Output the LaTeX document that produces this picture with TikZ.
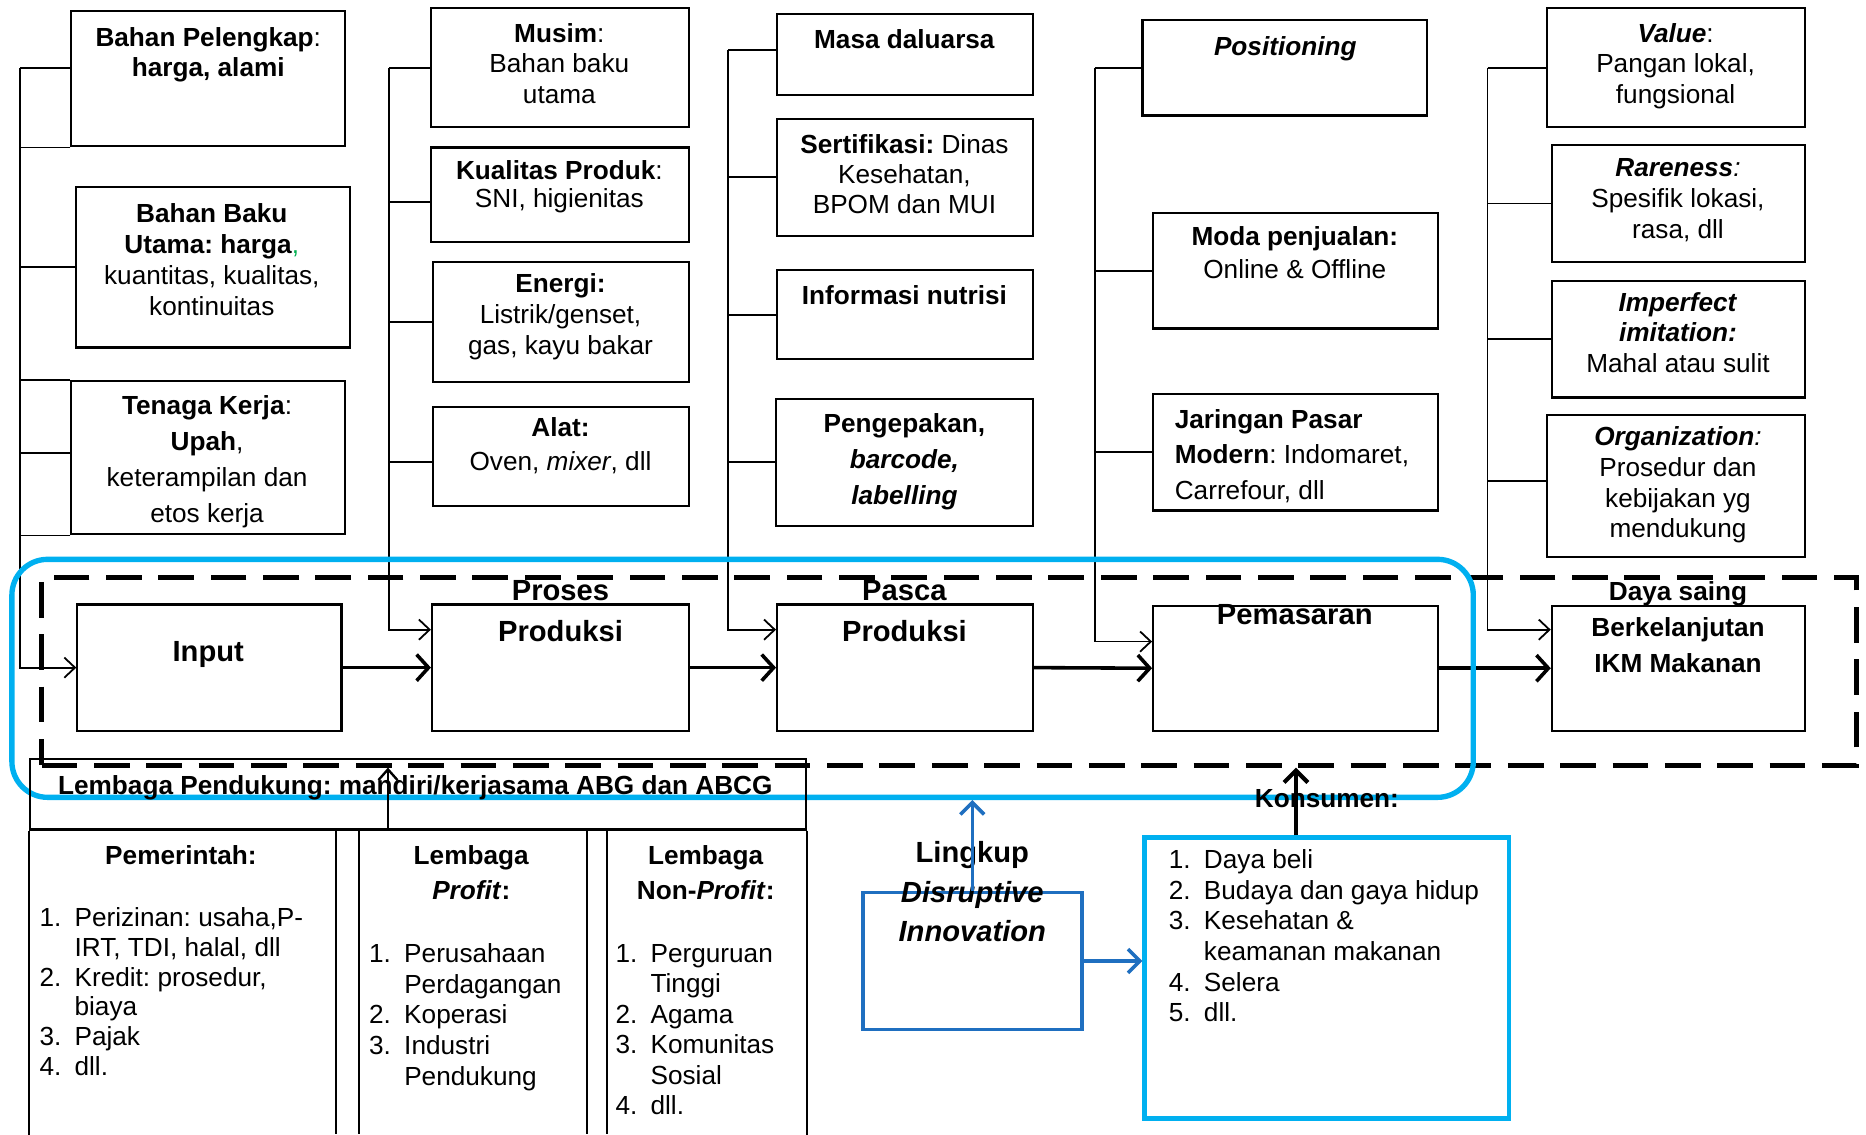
\documentclass[tikz,border=0pt]{standalone}
\usepackage{fontspec}
\setmainfont{Liberation Sans}
\usetikzlibrary{arrows.meta,fit,calc}
\definecolor{lb}{HTML}{00B0F0}
\definecolor{mb}{HTML}{1F6FC0}
\definecolor{gr}{HTML}{00B050}
\frenchspacing
\newcommand\fs{\fontsize{22}{25.5}\selectfont}
\newcommand\fsw[1]{\fontsize{22}{#1}\selectfont}
\newcommand\fsb[1]{\fontsize{24.5}{#1}\selectfont}
\newcommand\T{\rule{0pt}{16pt}}
\newcommand\TT{\rule{0pt}{17.6pt}}
\newcommand\li[2]{\makebox[29.5pt][l]{#1}#2}
\newcommand\lc[1]{\hspace*{29.5pt}#1}
% \bx[options]{name}{x1}{y1}{x2}{y2}: framed box between two corners
\newcommand\bx[6][]{\path (#3,#4) coordinate (#2-a) (#5,#6) coordinate (#2-b);
  \node[box,#1,fit=(#2-a)(#2-b)] (#2) {};}
\begin{document}
\begin{tikzpicture}[x=1pt,y=-1pt,
  box/.style={draw,line width=1.8pt,inner sep=0pt},
  txt/.style={inner sep=0pt,align=center,anchor=north,font=\fs},
  lst/.style={inner sep=0pt,align=left,anchor=north west,font=\fs},
  feed/.style={line width=1.5pt},
  feedarrow/.style={line width=1.5pt,-{Straight Barb[length=9pt,width=17pt]}},
  mainarrow/.style={line width=3pt,-{Straight Barb[length=10pt,width=22pt]}},
  uparrow/.style={line width=2pt,-{Straight Barb[length=9pt,width=16pt]}},
  karrow/.style={line width=3.5pt,-{Straight Barb[length=10pt,width=20pt]}},
  barrow/.style={draw=mb,line width=3pt,-{Straight Barb[length=10pt,width=20pt]}},
  tbl/.style={line width=1.8pt}]
\useasboundingbox (0,0) rectangle (1568,953);

% ---------- main process row ----------
\bx{inp}{65}{508}{287}{614}
\bx{pp}{363}{508}{579}{614}
\bx{ps}{653}{508}{868}{614}
\bx{pm}{969}{509}{1208}{614}
\bx{dy}{1304}{509}{1517}{614}

% ---------- input factors ----------
\bx{bp}{60}{9}{290}{123}
\bx{bb}{64}{157}{294}{292}
\bx{tk}{60}{320}{290}{449}
% ---------- production factors ----------
\bx{mu}{362}{7}{579}{107}
\bx{kp}{362}{124}{579}{203}
\bx{en}{364}{220}{579}{321}
\bx{al}{364}{342}{579}{425}
% ---------- post-production factors ----------
\bx{md}{653}{12}{868}{80}
\bx{se}{653}{100}{868}{198}
\bx{inf}{653}{227}{868}{302}
\bx{pk}{652}{335}{868}{442}
% ---------- marketing factors ----------
\bx{po}{960}{17}{1199}{97}
\bx{mo}{969}{179}{1208}{276}
\bx{jp}{969}{331}{1208}{429}
% ---------- competitiveness factors ----------
\bx{va}{1300}{7}{1517}{107}
\bx{ra}{1304}{122}{1517}{220}
\bx{im}{1304}{236}{1517}{334}
\bx{or}{1300}{349}{1517}{468}

% ---------- feeder trunks ----------
\coordinate (tA) at (17,57);
\draw[feed] (tA) -- (tA -| bp.west);
\draw[feed] (bb.west) -- (bb.west -| tA);
\draw[feed] ([yshift=4pt]tk.west) -- ([yshift=4pt]tk.west -| tA);
\draw[feed] (bp.south west) -- (bp.south west -| tA);
\draw[feed] (tk.north west) -- (tk.north west -| tA);
\draw[feed] (tk.south west) -- (tk.south west -| tA);
\draw[feedarrow] (tA) |- (inp.west);

\coordinate (tB) at (327,57);
\draw[feed] (tB) -- (tB -| mu.west);
\draw[feed] ([yshift=-6.5pt]kp.west) -- ([yshift=-6.5pt]kp.west -| tB);
\draw[feed] (en.west) -- (en.west -| tB);
\draw[feed] ([yshift=-4.5pt]al.west) -- ([yshift=-4.5pt]al.west -| tB);
\draw[feedarrow] (tB) |- ([yshift=-22pt]pp.north west);

\coordinate (tC) at (612,42);
\draw[feed] (tC) -- (tC -| md.west);
\draw[feed] (se.west) -- (se.west -| tC);
\draw[feed] (inf.west) -- (inf.west -| tC);
\draw[feed] (pk.west) -- (pk.west -| tC);
\draw[feedarrow] (tC) |- ([yshift=-22pt]ps.north west);

\coordinate (tD) at (920,57);
\draw[feed] (tD) -- (tD -| po.west);
\draw[feed] (mo.west) -- (mo.west -| tD);
\draw[feed] (jp.west) -- (jp.west -| tD);
\draw[feedarrow] (tD) |- ([yshift=-31pt]pm.north west);

\coordinate (tE) at (1250,57);
\draw[feed] (tE) -- (tE -| va.west);
\draw[feed] (ra.west) -- (ra.west -| tE);
\draw[feed] (im.west) -- (im.west -| tE);
\draw[feed] ([yshift=4.5pt]or.west) -- ([yshift=4.5pt]or.west -| tE);
\draw[feedarrow] (tE) |- ([yshift=-21pt]dy.north west);

% ---------- main flow ----------
\draw[mainarrow] (inp.east) -- (pp.west);
\draw[mainarrow] (pp.east) -- (ps.west);
\draw[mainarrow] (ps.east) -- (pm.west);
\draw[mainarrow] (pm.east) -- (dy.west);

% ---------- frames ----------
\path (35,485) coordinate (dsh-a) (1560,643) coordinate (dsh-b);
\node[draw,line width=4pt,dash pattern=on 30pt off 14pt,inner sep=0pt,fit=(dsh-a)(dsh-b)] (dsh) {};
\path (10,470) coordinate (blu-a) (1238,670) coordinate (blu-b);
\node[draw=lb,line width=4.5pt,rounded corners=30pt,inner sep=0pt,fit=(blu-a)(blu-b)] (blu) {};

% ---------- supporting institutions table ----------
\bx{lph}{25}{638}{677}{697}
\draw[tbl] (lph.south west) -- ++(0,256);
\draw[tbl] (lph.south east) -- ++(0,256);
\foreach \cx in {282,302,493,510} \draw[tbl] (\cx,697) -- (\cx,953);

% ---------- consumer and disruptive innovation ----------
\bx[draw=lb,line width=4pt]{ks}{962}{704}{1268}{940}
\bx[draw=mb,line width=3pt]{di}{725}{750}{909}{865}

% ---------- texts: input factors ----------
\node[txt,font={\fsw{26}}] (tbp) at (175,22.5) {\T\textbf{Bahan Pelengkap}:\\\textbf{harga, alami}};
\node[txt,font={\fsw{26}}] (tbb) at (178,170.5) {\T\textbf{Bahan Baku}\\\textbf{Utama: harga}{\color{gr},}\\kuantitas, kualitas,\\kontinuitas};
\node[txt,font={\fsw{30}}] (ttk) at (174,332.5) {\T\textbf{Tenaga Kerja}:\\\textbf{Upah},\\keterampilan dan\\etos kerja};
% ---------- texts: production ----------
\node[txt] (tmu) at (470,19.5) {\T\textbf{Musim}:\\Bahan baku\\utama};
\node[txt,font={\fsw{24}}] (tkp) at (470,134.5) {\T\textbf{Kualitas Produk}:\\SNI, higienitas};
\node[txt,font={\fsw{26}}] (ten) at (471,229.5) {\T\textbf{Energi:}\\Listrik/genset,\\gas, kayu bakar};
\node[txt,font={\fsw{29}}] (tal) at (471,350.5) {\T\textbf{Alat:}\\Oven, \textit{mixer}, dll};
% ---------- texts: post-production ----------
\node[txt] (tmd) at (760,24.5) {\T\textbf{Masa daluarsa}};
\node[txt] (tse) at (760,112.5) {\T\textbf{Sertifikasi:} Dinas\\Kesehatan,\\BPOM dan MUI};
\node[txt] (tinf) at (760,239.5) {\T\textbf{Informasi nutrisi}};
\node[txt,font={\fsw{30}}] (tpk) at (760,347.5) {\T\textbf{Pengepakan,}\\\textbf{\textit{barcode,}}\\\textbf{\textit{labelling}}};
% ---------- texts: marketing ----------
\node[txt] (tpo) at (1080,30.5) {\T\textbf{\textit{Positioning}}};
\node[txt,font={\fsw{27}}] (tmo) at (1088,190.5) {\T\textbf{Moda penjualan:}\\Online \& Offline};
\node[lst,font={\fsw{30}}] (tjp) at (987,343.5) {\T\textbf{Jaringan Pasar}\\\textbf{Modern}: Indomaret,\\Carrefour, dll};
% ---------- texts: competitiveness ----------
\node[txt] (tva) at (1408,19.5) {\T\textbf{\textit{Value}}:\\Pangan lokal,\\fungsional};
\node[txt,font={\fsw{26}}] (tra) at (1410,132.5) {\T\textbf{\textit{Rareness}}\textit{:}\\Spesifik lokasi,\\rasa, dll};
\node[txt] (tim) at (1410,245.5) {\T\textbf{\textit{Imperfect}}\\\textbf{\textit{imitation:}}\\Mahal atau sulit};
\node[txt,font={\fsw{25.7}}] (tor) at (1410,358.5) {\T\textbf{\textit{Organization}}\textit{:}\\Prosedur dan\\kebijakan yg\\mendukung};

% ---------- texts: main row ----------
\node[txt,font={\fsb{30}}] (tinp) at (175,538) {\TT\textbf{Input}};
\node[txt,font={\fsb{34}}] (tpp) at (471,487) {\TT\textbf{Proses}\\\textbf{Produksi}};
\node[txt,font={\fsb{34}}] (tps) at (760,487) {\TT\textbf{Pasca}\\\textbf{Produksi}};
\node[txt,font={\fsb{30}}] (tpm) at (1088,507) {\TT\textbf{Pemasaran}};
\node[txt,font={\fsw{30}}] (tdy) at (1410,488.5) {\T\textbf{Daya saing}\\\textbf{Berkelanjutan}\\\textbf{IKM Makanan}};

% ---------- texts: table ----------
\node[txt] (tlp) at (349,651.5) {\T\textbf{Lembaga Pendukung: mandiri/kerjasama ABG dan ABCG}};
\node[txt] (tpe) at (152,710.5) {\T\textbf{Pemerintah:}};
\node[lst,font={\fsw{25}}] (lpe) at (33,762.5) {\T\li{1.}{Perizinan: usaha,P-}\\\lc{IRT, TDI, halal, dll}\\\li{2.}{Kredit: prosedur,}\\\lc{biaya}\\\li{3.}{Pajak}\\\li{4.}{dll.}};
\node[txt,font={\fsw{29}}] (tpr) at (396,710.5) {\T\textbf{Lembaga}\\\textbf{\textit{Profit}:}};
\node[lst,font={\fsw{25.8}}] (lpr) at (310,792.5) {\T\li{1.}{Perusahaan}\\\lc{Perdagangan}\\\li{2.}{Koperasi}\\\li{3.}{Industri}\\\lc{Pendukung}};
\node[txt,font={\fsw{29}}] (tnp) at (593,710.5) {\T\textbf{Lembaga}\\\textbf{Non-\textit{Profit}:}};
\node[lst,font={\fsw{25.6}}] (lnp) at (517,792.5) {\T\li{1.}{Perguruan}\\\lc{Tinggi}\\\li{2.}{Agama}\\\li{3.}{Komunitas}\\\lc{Sosial}\\\li{4.}{dll.}};

% ---------- texts: consumer and innovation ----------
\node[txt] (tks) at (1115,662.5) {\T\textbf{Konsumen:}};
\node[lst,font={\fsw{25.8}}] (lks) at (982,713.5) {\T\li{1.}{Daya beli}\\\li{2.}{Budaya dan gaya hidup}\\\li{3.}{Kesehatan \&}\\\lc{keamanan makanan}\\\li{4.}{Selera}\\\li{5.}{dll.}};
\node[txt,font={\fsb{33}}] (tdi) at (817,707) {\TT\textbf{Lingkup}\\\textbf{\textit{Disruptive}}\\\textbf{\textit{Innovation}}};

% ---------- upward influences ----------
\coordinate (lsrc) at (326,697);
\draw[uparrow] (lsrc) -- (lsrc |- dsh.south);
\coordinate (ka) at ([xshift=-26pt]ks.north);
\draw[karrow] (ka) -- (ka |- dsh.south);
\draw[barrow] (di.north) -- (di.north |- blu.south);
\draw[barrow] (di.east) -- (di.east -| ks.west);
\end{tikzpicture}
\end{document}
